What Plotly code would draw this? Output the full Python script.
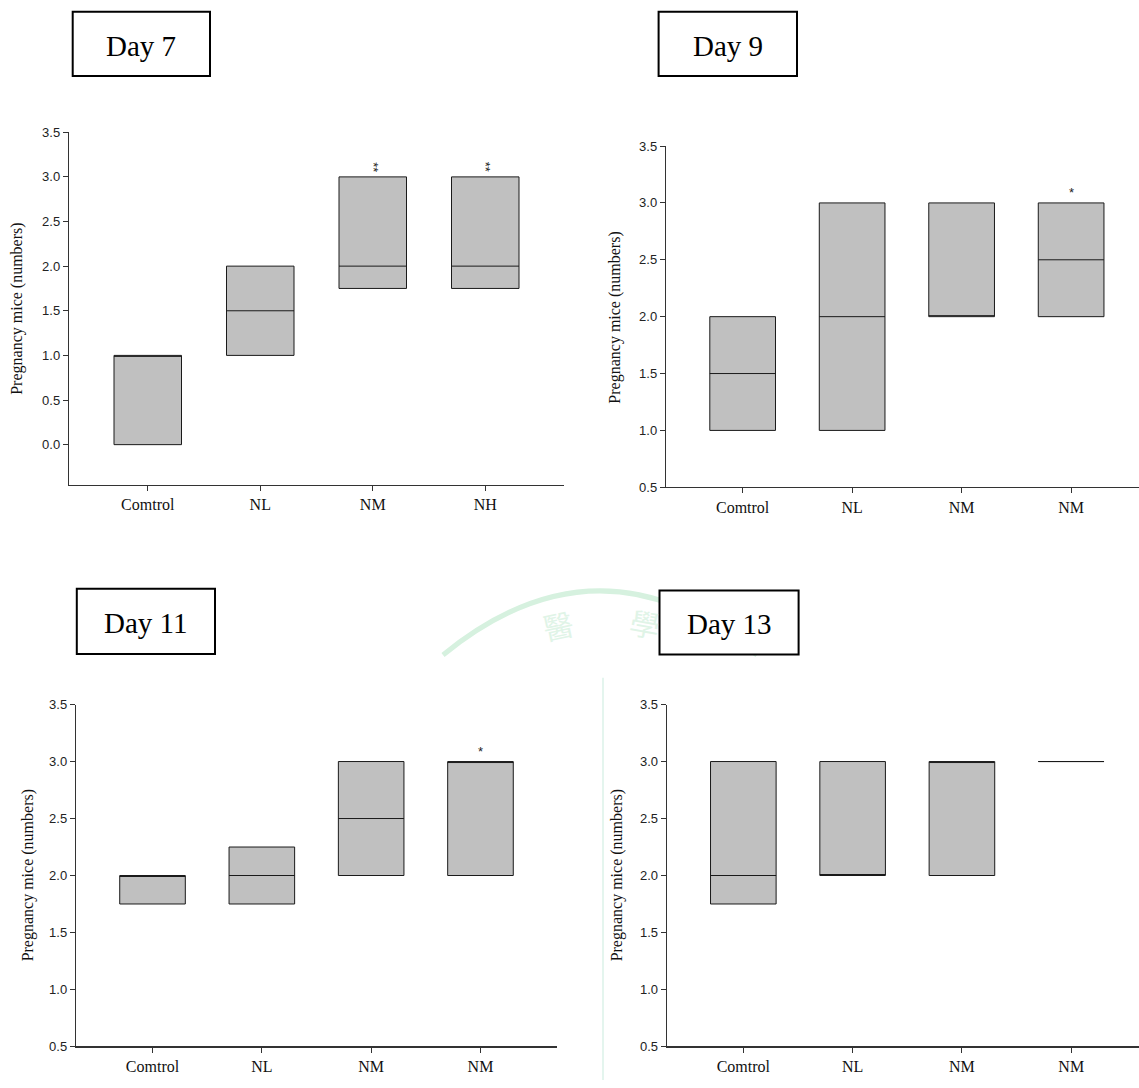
import plotly.graph_objects as go

W, H = 1139, 1088

# ---------------- data ----------------
groups_day7 = ["Comtrol", "NL", "NM", "NH"]
groups_other = ["Comtrol", "NL", "NM", "NM"]
positions = [0, 1, 2, 3]

d7_q1 = [0.0, 1.0, 1.75, 1.75]
d7_median = [1.0, 1.5, 2.0, 2.0]
d7_q3 = [1.0, 2.0, 3.0, 3.0]
d7_sig = ["", "", "**", "**"]

d9_q1 = [1.0, 1.0, 2.0, 2.0]
d9_median = [1.5, 2.0, 2.0, 2.5]
d9_q3 = [2.0, 3.0, 3.0, 3.0]
d9_sig = ["", "", "", "*"]

d11_q1 = [1.75, 1.75, 2.0, 2.0]
d11_median = [2.0, 2.0, 2.5, 3.0]
d11_q3 = [2.0, 2.25, 3.0, 3.0]
d11_sig = ["", "", "", "*"]

d13_q1 = [1.75, 2.0, 2.0, 3.0]
d13_median = [2.0, 2.0, 3.0, 3.0]
d13_q3 = [3.0, 3.0, 3.0, 3.0]
d13_sig = ["", "", "", ""]

titles = ["Day 7", "Day 9", "Day 11", "Day 13"]
y_title = "Pregnancy mice (numbers)"
y_ticks_day7 = [0.0, 0.5, 1.0, 1.5, 2.0, 2.5, 3.0, 3.5]
y_ticks_other = [0.5, 1.0, 1.5, 2.0, 2.5, 3.0, 3.5]

# ---------------- layout helpers (pixel -> paper) ----------------
def px(x):
    return x / W

def py(y):
    return 1 - y / H

SERIF = "Liberation Serif, Times New Roman, serif"
SANS = "Liberation Sans, Arial, sans-serif"
CJK = "Noto Sans CJK TC, Noto Sans CJK SC, sans-serif"

panels = [
    dict(groups=groups_day7, q1=d7_q1, med=d7_median, q3=d7_q3, sig=d7_sig,
         xd=(69, 564), yd=(127, 484.5), xr=[-0.7, 3.7], yr=[-0.45, 3.5], yt=y_ticks_day7,
         box=(72.7, 4.7, 210, 70), yti=(17, 306)),
    dict(groups=groups_other, q1=d9_q1, med=d9_median, q3=d9_q3, sig=d9_sig,
         xd=(666, 1139), yd=(141, 487), xr=[-0.7, 3.62], yr=[0.5, 3.5], yt=y_ticks_other,
         box=(658.6, 4.7, 797, 70), yti=(615.5, 315.5)),
    dict(groups=groups_other, q1=d11_q1, med=d11_median, q3=d11_q3, sig=d11_sig,
         xd=(76, 557), yd=(707.3, 1054), xr=[-0.7, 3.7], yr=[0.5, 3.5], yt=y_ticks_other,
         box=(76.8, 590, 215, 656), yti=(28, 880.5)),
    dict(groups=groups_other, q1=d13_q1, med=d13_median, q3=d13_q3, sig=d13_sig,
         xd=(666.8, 1139), yd=(707.3, 1054), xr=[-0.7, 3.62], yr=[0.5, 3.5], yt=y_ticks_other,
         box=(659.5, 591.7, 798.6, 656.5), yti=(617, 880.5)),
]

fig = go.Figure()
annotations = []
shapes = []

# faint watermark remnants (decorative)
WM = "#d6f1df"
shapes.append(dict(type="path", xref="paper", yref="paper",
                   path=f"M {px(443)},{py(657)} Q {px(600)},{py(527)} {px(757)},{py(657)}",
                   line=dict(color=WM, width=5), layer="below"))
shapes.append(dict(type="line", xref="paper", yref="paper",
                   x0=px(603), x1=px(603), y0=py(680), y1=py(1088),
                   line=dict(color="#e4f5ee", width=2), layer="below"))
annotations.append(dict(x=px(558), y=py(627), xref="paper", yref="paper", text="醫",
                        showarrow=False, textangle=-12,
                        font=dict(family=CJK, size=30, color="#e0f4e7")))
annotations.append(dict(x=px(645), y=py(625), xref="paper", yref="paper", text="學",
                        showarrow=False, textangle=10,
                        font=dict(family=CJK, size=30, color="#e0f4e7")))

for i, p in enumerate(panels):
    n = "" if i == 0 else str(i + 1)
    xa = "x" + n
    ya = "y" + n
    fig.add_trace(go.Box(
        x=positions, q1=p["q1"], median=p["med"], q3=p["q3"],
        lowerfence=p["q1"], upperfence=p["q3"],
        width=0.6, whiskerwidth=0, boxpoints=False,
        fillcolor="#c0c0c0", line=dict(color="#1a1a1a", width=1),
        xaxis=xa, yaxis=ya, showlegend=False, hoverinfo="skip",
    ))
    axis_common = dict(showgrid=False, zeroline=False, showline=True,
                       linecolor="#333333", linewidth=1.2, ticks="outside",
                       ticklen=5, tickcolor="#333333", tickwidth=1)
    fig.layout["xaxis" + n] = dict(
        axis_common, domain=[px(p["xd"][0]), px(p["xd"][1])], range=p["xr"],
        tickvals=positions, ticktext=p["groups"], anchor=ya,
        tickfont=dict(family=SERIF, size=16, color="#111111"))
    fig.layout["yaxis" + n] = dict(
        axis_common, domain=[py(p["yd"][1]), py(p["yd"][0])], range=p["yr"],
        tickvals=p["yt"], tickformat=".1f", anchor=xa,
        tickfont=dict(family=SANS, size=13, color="#222222"))

    # significance marks
    for xi, s, top in zip(positions, p["sig"], p["q3"]):
        if s:
            annotations.append(dict(
                x=xi, y=top, xref=xa, yref=ya, text=s, showarrow=False,
                textangle=90 if len(s) > 1 else 0,
                yanchor="bottom", yshift=3 if len(s) > 1 else 1,
                font=dict(family=SANS, size=13, color="#222222")))

    # y-axis title
    annotations.append(dict(
        x=px(p["yti"][0]), y=py(p["yti"][1]), xref="paper", yref="paper",
        text=y_title, textangle=-90, showarrow=False,
        xanchor="center", yanchor="middle",
        font=dict(family=SERIF, size=16, color="#111111")))

    # title box
    bx0, by0, bx1, by1 = p["box"]
    shapes.append(dict(type="rect", xref="paper", yref="paper",
                       x0=px(bx0), x1=px(bx1), y0=py(by1), y1=py(by0),
                       line=dict(color="#000000", width=2), fillcolor="white"))
    annotations.append(dict(
        x=px((bx0 + bx1) / 2), y=py((by0 + by1) / 2 + 2), xref="paper", yref="paper",
        text=titles[i], showarrow=False, xanchor="center", yanchor="middle",
        font=dict(family=SERIF, size=29, color="#000000")))

fig.update_layout(
    width=W, height=H,
    margin=dict(l=0, r=0, t=0, b=0),
    paper_bgcolor="white", plot_bgcolor="white",
    showlegend=False,
    annotations=annotations, shapes=shapes,
)

fig.write_html(
    "out.html",
    config={"displayModeBar": False, "staticPlot": True},
    post_script="document.body.style.margin='0';document.body.style.padding='0';"
                "document.body.style.overflow='hidden';",
)
